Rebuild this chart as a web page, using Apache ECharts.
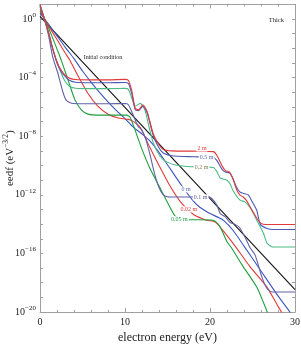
<!DOCTYPE html>
<html><head><meta charset="utf-8">
<script src="https://cdn.jsdelivr.net/npm/echarts@6/dist/echarts.min.js"></script>
<style>html,body{margin:0;padding:0;background:#fff}#c{width:301px;height:344px}</style>
</head><body><div id="c"></div>
<script>
// Each point: [electron energy (eV), log10 of eedf (eV^-3/2)]
const initialCondition = [[0,0.19],[30,-18.47]];
const eedf2m = [[0,1.0],[0.5,0.05],[1.0,-0.9],[1.5,-2.0],[2.0,-2.95],[2.5,-3.5],[3.0,-3.85],[3.5,-4.05],[4.2,-4.13],[6,-4.15],[8,-4.15],[10,-4.12],[10.4,-4.2],[10.8,-4.9],[11.2,-6.1],[11.6,-6.2],[12.1,-5.85],[12.6,-6.3],[13.3,-7.8],[13.9,-8.5],[14.5,-8.9],[15.5,-9.0],[18,-9.02],[20.4,-9.05],[20.8,-9.3],[21.4,-10.0],[21.8,-10.35],[22.3,-10.45],[22.7,-10.9],[23.1,-11.6],[23.5,-12.0],[23.9,-12.15],[24.3,-12.4],[24.7,-12.8],[25.1,-13.2],[25.5,-13.6],[26.0,-13.95],[26.6,-14.03],[30,-14.03]];
const eedf05m = [[0,0.95],[0.5,0.05],[1.0,-0.95],[1.5,-2.05],[2.0,-3.0],[2.5,-3.6],[3.0,-3.95],[3.5,-4.2],[4.2,-4.32],[6,-4.35],[8,-4.35],[10,-4.33],[10.4,-4.4],[10.8,-5.1],[11.2,-6.2],[11.6,-6.25],[12.1,-5.95],[12.6,-6.4],[13.3,-7.9],[13.9,-8.7],[14.5,-9.15],[15.5,-9.33],[18,-9.4],[20.4,-9.45],[20.8,-9.65],[21.4,-10.25],[21.8,-10.45],[22.3,-10.5],[22.7,-10.9],[23.1,-11.45],[23.5,-11.8],[23.9,-11.9],[24.5,-12.0],[24.9,-12.4],[25.5,-13.05],[25.9,-14.0],[26.7,-14.3],[27.5,-14.37],[30,-14.37]];
const eedf02m = [[0,0.9],[0.5,0.05],[1.0,-0.95],[1.5,-2.05],[2.0,-2.9],[2.5,-3.7],[3.0,-4.3],[3.5,-4.6],[4.2,-4.72],[6,-4.75],[8,-4.75],[10,-4.73],[10.4,-4.8],[10.8,-5.4],[11.2,-5.95],[11.8,-5.76],[12.35,-6.22],[12.8,-7.3],[13.3,-8.4],[14.1,-9.35],[14.9,-9.75],[16.1,-9.98],[17.8,-10.08],[20.4,-10.13],[20.8,-10.4],[21.2,-10.85],[22,-11.0],[22.4,-11.3],[22.7,-11.7],[23.5,-12.35],[24.1,-12.48],[24.5,-12.7],[24.9,-13.05],[25.5,-13.73],[26.3,-14.64],[26.7,-15.3],[27.4,-15.56],[30,-15.56]];
const eedf01m = [[0,0.85],[0.5,0.05],[1.0,-1.1],[1.5,-2.6],[2.1,-3.7],[2.7,-5.0],[3.1,-5.55],[3.7,-5.75],[5,-5.78],[8,-5.78],[10,-5.77],[10.4,-5.85],[11.0,-6.6],[11.5,-7.3],[12.0,-7.6],[12.5,-8.3],[13.0,-9.4],[13.5,-10.6],[14.0,-11.5],[14.5,-12.0],[15.0,-12.13],[16,-12.15],[18,-12.15],[19,-12.1],[19.6,-12.1],[20.2,-12.25],[20.8,-12.7],[21.2,-13.28],[21.8,-13.5],[22.35,-13.9],[22.9,-14.0],[23.5,-14.25],[24.3,-15.1],[24.7,-15.6],[25.3,-16.1],[26.1,-17.6],[26.7,-18.4],[27.3,-18.63],[30,-18.63]];
const eedf005m = [[0,0.7],[0.55,0.0],[1,-0.6],[1.5,-1.3],[2,-2.05],[2.5,-2.8],[3.3,-4.17],[4.1,-5.5],[4.86,-6.2],[5.65,-6.49],[7,-6.56],[10.2,-6.56],[10.6,-6.7],[11.2,-7.6],[12,-8.9],[12.94,-10.2],[14.1,-11.5],[14.9,-12.4],[15.9,-13.45],[16.9,-13.69],[20.2,-13.72],[20.7,-13.85],[21.2,-14.2],[22.0,-15.2],[22.5,-15.6],[23.9,-16.9],[25.5,-18.3],[26.8,-20.1]];
const eedf002m = [[0,0.55],[0.55,0.0],[1,-0.45],[2,-1.4],[3,-2.35],[3.5,-2.8],[4.5,-3.9],[5.65,-5.08],[6.8,-5.95],[8,-6.5],[9.2,-6.75],[10.4,-6.85],[11,-7.0],[11.8,-7.4],[12.9,-8.73],[13.7,-9.65],[15.3,-11.4],[16.7,-12.6],[18.2,-13.4],[19.6,-13.73],[20.6,-13.85],[21.2,-14.2],[22.7,-15.3],[24.7,-16.9],[26.7,-18.3],[27.8,-19.4],[28.5,-20.1]];
const eedf0m = [[0,0.4],[0.55,0.0],[1,-0.35],[2,-1.15],[3,-1.95],[4,-2.7],[5,-3.55],[6,-4.3],[7,-5.0],[8,-5.65],[9,-6.25],[10,-6.8],[11,-7.4],[12,-7.85],[12.9,-8.3],[14,-9.1],[14.9,-9.86],[16.7,-11.4],[18,-12.4],[18.8,-12.85],[20,-13.28],[21,-13.55],[21.6,-13.75],[22.7,-14.42],[24,-15.5],[26,-17.2],[28,-18.9],[29.4,-20],[30,-20.5]];
const xTickLabels = [0,10,20,30];
const yTickExponents = [0,-4,-8,-12,-16,-20];

const serif = 'Liberation Serif';
function lbl(text, coord, color){
  return {
    symbol:'circle', symbolSize:0, silent:true,
    data:[{coord:coord, name:text}],
    label:{show:true, position:'inside', formatter:'{b}', color:color, fontSize:6, fontFamily:serif, backgroundColor:'#fff', padding:[0,1,0,1]}
  };
}
function line(name, data, color, labelText, labelCoord, labelColor){
  const s = {name:name, type:'line', data:data, showSymbol:false, symbol:'none', smooth:0.2,
    lineStyle:{color:color, width:1.1}, itemStyle:{color:color}, z:2};
  if (labelText) s.markPoint = lbl(labelText, labelCoord, labelColor || color);
  return s;
}
function axisCommon(){
  return {
    axisLine:{show:true, onZero:false, lineStyle:{color:'#a0a0a0', width:1}},
    axisTick:{show:true, inside:true, length:4, lineStyle:{color:'#a0a0a0'}},
    minorTick:{show:true, length:2, lineStyle:{color:'#a0a0a0'}},
    splitLine:{show:false}
  };
}
const chart = echarts.init(document.getElementById('c'));
chart.setOption({
  animation:false,
  backgroundColor:'#fff',
  title:{text:'Thick', right:12, top:12, textStyle:{fontSize:6.5, fontWeight:'normal', fontFamily:serif, color:'#222'}},
  grid:{left:40, right:6, top:4.4, bottom:32, containLabel:false, outerBoundsMode:'none'},
  xAxis:[
    Object.assign(axisCommon(), {type:'value', min:0, max:30, interval:10, position:'bottom',
      minorTick:{show:true, splitNumber:5, length:2, lineStyle:{color:'#a0a0a0'}},
      axisLabel:{color:'#222', fontFamily:serif, fontSize:10, margin:5,
        formatter:v => xTickLabels.indexOf(v) >= 0 ? String(v) : ''},
      name:'electron energy (eV)', nameLocation:'middle', nameGap:20,
      nameTextStyle:{fontFamily:serif, fontSize:12, color:'#222'}}),
    Object.assign(axisCommon(), {type:'value', min:0, max:30, interval:10, position:'top',
      minorTick:{show:true, splitNumber:5, length:2, lineStyle:{color:'#a0a0a0'}},
      axisLabel:{show:false}})
  ],
  yAxis:[
    Object.assign(axisCommon(), {type:'value', min:-20, max:1, interval:1, position:'left',
      axisTick:{show:true, inside:true, length:3, lineStyle:{color:'#a0a0a0'}},
      minorTick:{show:false},
      axisLabel:{color:'#222', margin:4, showMaxLabel:false,
        formatter:v => yTickExponents.indexOf(v) >= 0 ? '{b|10}{s|' + (v === 0 ? '0' : '\u2212' + (-v)) + '}' : '',
        rich:{b:{fontFamily:serif, fontSize:10, color:'#222'}, s:{fontFamily:serif, fontSize:7, color:'#222', padding:[0,0,8,0]}}},
      name:'{n|eedf (eV}{s|\u22123/2}{n|)}', nameLocation:'middle', nameGap:22, nameMoveOverlap:false,
      nameTextStyle:{rich:{n:{fontFamily:serif, fontSize:11, color:'#222'}, s:{fontFamily:serif, fontSize:7.5, color:'#222', padding:[0,0,8,0]}}}}),
    Object.assign(axisCommon(), {type:'value', min:-20, max:1, interval:1, position:'right',
      axisTick:{show:true, inside:true, length:3, lineStyle:{color:'#a0a0a0'}},
      minorTick:{show:false}, axisLabel:{show:false}})
  ],
  series:[
    line('Initial condition', initialCondition, '#111', 'Initial condition', [7.4,-2.62], '#222'),
    line('0 m', eedf0m, '#3a55c0', '0 m', [17.2,-11.63], '#5a6ab0'),
    line('0.02 m', eedf002m, '#e03a3a', '0.02 m', [17.5,-13.0], '#e03a3a'),
    line('0.05 m', eedf005m, '#1f9e3e', '0.05 m', [16.4,-13.67], '#1f9e3e'),
    line('0.1 m', eedf01m, '#6262a8', '0.1 m', [18.9,-12.18], '#5a5aa0'),
    line('0.2 m', eedf02m, '#4dbb86', '0.2 m', [19.0,-10.13], '#808050'),
    line('0.5 m', eedf05m, '#4b5bb5', '0.5 m', [19.6,-9.48], '#5a6ab0'),
    line('2 m', eedf2m, '#e03a3a', '2 m', [19.06,-8.84], '#e03a3a')
  ]
});
</script></body></html>
